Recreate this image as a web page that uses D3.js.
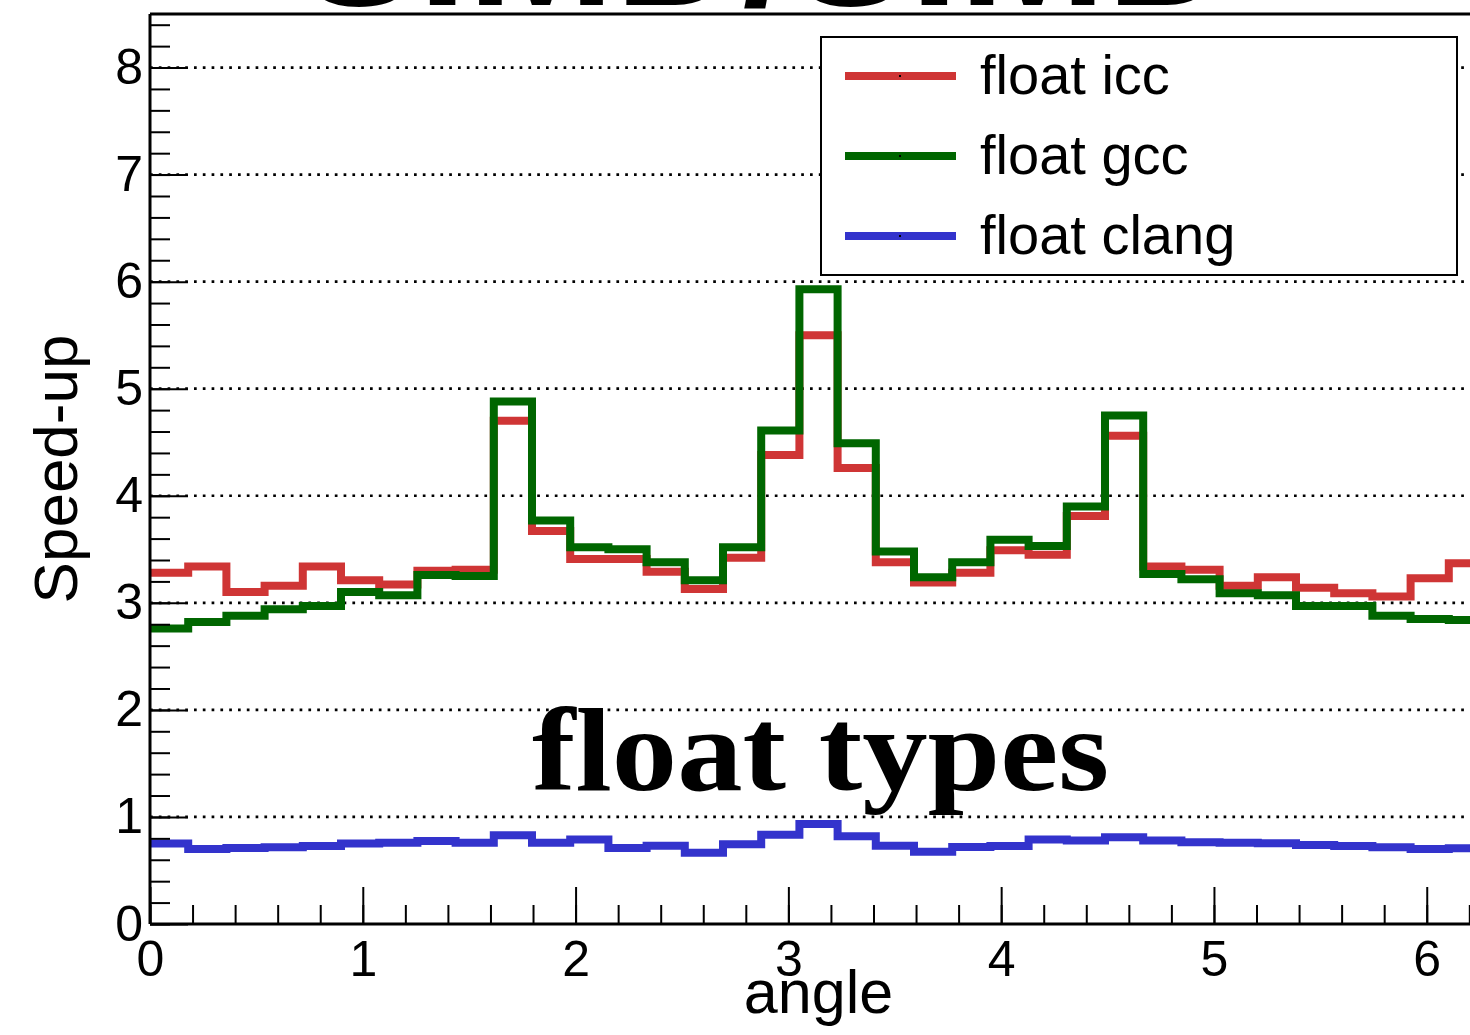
<!DOCTYPE html>
<html>
<head>
<meta charset="utf-8">
<script src="https://cdn.jsdelivr.net/npm/d3@7"></script>
<style>
  body { margin: 0; background: #fff; }
  svg { display: block; }
</style>
</head>
<body>
<div id="chart"></div>
<script>
// 35 bins over [0, 2pi]
const nBins = 35;
const xMax = 2 * Math.PI;

const iccFloat = [3.28, 3.34, 3.10, 3.16, 3.34, 3.21, 3.17, 3.30, 3.31, 4.70,
                  3.67, 3.41, 3.41, 3.29, 3.13, 3.42, 4.38, 5.50, 4.26, 3.38,
                  3.19, 3.28, 3.49, 3.45, 3.81, 4.56, 3.34, 3.31, 3.16, 3.24,
                  3.14, 3.09, 3.06, 3.23, 3.37];
const gccFloat = [2.76, 2.82, 2.88, 2.94, 2.97, 3.10, 3.07, 3.26, 3.25, 4.88,
                  3.77, 3.52, 3.50, 3.38, 3.21, 3.52, 4.61, 5.93, 4.49, 3.48,
                  3.24, 3.38, 3.59, 3.53, 3.90, 4.75, 3.27, 3.22, 3.09, 3.07,
                  2.97, 2.97, 2.88, 2.85, 2.84];
const clangFloat = [0.753, 0.70, 0.71, 0.716, 0.728, 0.753, 0.76, 0.775, 0.76, 0.83,
                    0.76, 0.79, 0.71, 0.73, 0.666, 0.744, 0.834, 0.934, 0.82, 0.73,
                    0.675, 0.72, 0.728, 0.79, 0.78, 0.81, 0.78, 0.763, 0.76, 0.755,
                    0.738, 0.728, 0.716, 0.70, 0.707];

const seriesNames = ["float icc", "float gcc", "float clang"];
const seriesColors = ["#cf3535", "#006600", "#3333cc"];

const xTicks = [0, 1, 2, 3, 4, 5, 6];
const yTicks = [0, 1, 2, 3, 4, 5, 6, 7, 8];
const gridValues = [1, 2, 3, 4, 5, 6, 7, 8];

const W = 1470, H = 1035;
const padL = 150, padR = 1487, padT = 14, padB = 924;

const svg = d3.select("#chart").append("svg")
    .attr("width", W)
    .attr("height", H)
    .attr("viewBox", `0 0 ${W} ${H}`);

const x = d3.scaleLinear().domain([0, xMax]).range([padL, padR]);
const y = d3.scaleLinear().domain([0, 8.5]).range([padB, padT]);

// big title, mostly off the top of the picture
svg.append("text")
    .attr("x", 767).attr("y", 5)
    .attr("text-anchor", "middle")
    .style("font-family", "'Liberation Sans', Arial, sans-serif")
    .style("font-weight", "bold")
    .style("font-size", "177px")
    .text("SIMD/SIMD");

// dotted horizontal grid
svg.append("g").selectAll("line")
    .data(gridValues)
    .join("line")
    .attr("x1", padL).attr("x2", padR)
    .attr("y1", d => y(d)).attr("y2", d => y(d))
    .attr("stroke", "#000")
    .attr("stroke-width", 2.7)
    .attr("stroke-dasharray", "2.7,6.1");

// histograms
const binW = xMax / nBins;
const stepLine = d3.line()
    .x(d => x(d[0]))
    .y(d => y(d[1]))
    .curve(d3.curveStepAfter);

function histPoints(vals) {
    const pts = vals.map((v, i) => [i * binW, v]);
    pts.push([nBins * binW, vals[vals.length - 1]]);
    return pts;
}

[iccFloat, gccFloat, clangFloat].forEach((vals, i) => {
    svg.append("path")
        .datum(histPoints(vals))
        .attr("d", stepLine)
        .attr("fill", "none")
        .attr("stroke", seriesColors[i])
        .attr("stroke-width", 8)
        .attr("stroke-linejoin", "miter");
});

// axes: major + minor ticks drawn inward
const axisFont = "'Liberation Sans', Arial, sans-serif";

const xMinor = svg.append("g").attr("transform", `translate(0,${padB})`)
    .call(d3.axisBottom(x).tickValues(d3.range(0, 6.3, 0.2)).tickSizeInner(-19).tickSizeOuter(0).tickFormat(""));
const xMajor = svg.append("g").attr("transform", `translate(0,${padB})`)
    .call(d3.axisBottom(x).tickValues(xTicks).tickSizeInner(-37).tickSizeOuter(0).tickPadding(16).tickFormat(d3.format("d")));

const yMinor = svg.append("g").attr("transform", `translate(${padL},0)`)
    .call(d3.axisLeft(y).tickValues(d3.range(0, 8.5, 0.2)).tickSizeInner(-20).tickSizeOuter(0).tickFormat(""));
const yMajor = svg.append("g").attr("transform", `translate(${padL},0)`)
    .call(d3.axisLeft(y).tickValues(yTicks).tickSizeInner(-38).tickSizeOuter(0).tickPadding(7).tickFormat(d3.format("d")));

[xMinor, xMajor, yMinor, yMajor].forEach(g => {
    g.select(".domain").remove();
    g.selectAll(".tick line").attr("stroke", "#000").attr("stroke-width", 2);
    g.selectAll(".tick text")
        .attr("fill", "#000")
        .style("font-family", axisFont)
        .style("font-size", "50px");
});

// frame
svg.append("line").attr("x1", padL).attr("x2", padL).attr("y1", padT).attr("y2", padB)
    .attr("stroke", "#000").attr("stroke-width", 3);
svg.append("line").attr("x1", padL).attr("x2", padR).attr("y1", padB).attr("y2", padB)
    .attr("stroke", "#000").attr("stroke-width", 3);
svg.append("line").attr("x1", padL).attr("x2", padR).attr("y1", padT).attr("y2", padT)
    .attr("stroke", "#000").attr("stroke-width", 3);

// axis titles
svg.append("text")
    .attr("x", (padL + padR) / 2).attr("y", 1013)
    .attr("text-anchor", "middle")
    .style("font-family", axisFont)
    .style("font-size", "61px")
    .text("angle");

svg.append("text")
    .attr("transform", `translate(77,${(padT + padB) / 2}) rotate(-90)`)
    .attr("text-anchor", "middle")
    .style("font-family", axisFont)
    .style("font-size", "62px")
    .text("Speed-up");

// legend
const legend = svg.append("g");
legend.append("rect")
    .attr("x", 821).attr("y", 37)
    .attr("width", 636).attr("height", 238)
    .attr("fill", "#fff").attr("stroke", "#000").attr("stroke-width", 2);

const rowY = [76, 156, 236];
seriesNames.forEach((name, i) => {
    legend.append("line")
        .attr("x1", 845).attr("x2", 956)
        .attr("y1", rowY[i]).attr("y2", rowY[i])
        .attr("stroke", seriesColors[i]).attr("stroke-width", 8);
    legend.append("rect")
        .attr("x", 899).attr("y", rowY[i] - 1)
        .attr("width", 2).attr("height", 2)
        .attr("fill", "#000");
    legend.append("text")
        .attr("x", 980).attr("y", rowY[i] + 18)
        .style("font-family", axisFont)
        .style("font-size", "56px")
        .text(name);
});

// label in the plot
svg.append("text")
    .attr("x", 532).attr("y", 790)
    .attr("textLength", 577)
    .attr("lengthAdjust", "spacingAndGlyphs")
    .style("font-family", "'Liberation Serif', 'Times New Roman', serif")
    .style("font-weight", "bold")
    .style("font-size", "118px")
    .text("float types");
</script>
</body>
</html>
